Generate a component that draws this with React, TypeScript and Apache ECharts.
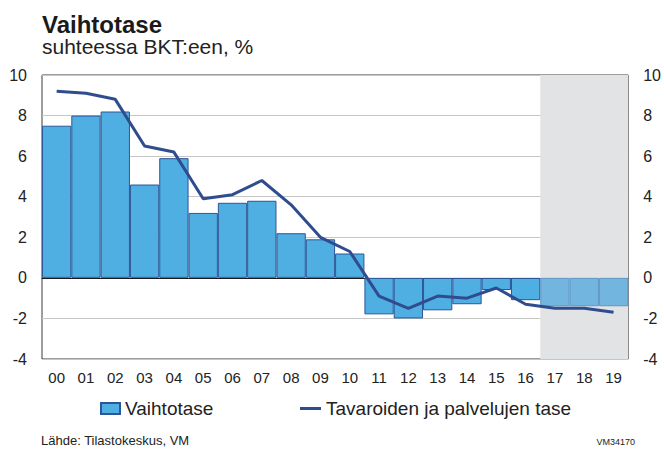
import React, { useEffect, useRef } from "react";
import * as echarts from "echarts";

const categories = ["00","01","02","03","04","05","06","07","08","09","10","11","12","13","14","15","16","17","18","19"];
const vaihtotase = [7.5, 8.0, 8.2, 4.6, 5.9, 3.2, 3.7, 3.8, 2.2, 1.9, 1.2, -1.8, -2.0, -1.6, -1.3, -0.6, -1.1, -1.4, -1.4, -1.4];
const tavaratase = [9.2, 9.1, 8.8, 6.5, 6.2, 3.9, 4.1, 4.8, 3.6, 2.0, 1.3, -0.9, -1.5, -0.9, -1.0, -0.5, -1.3, -1.5, -1.5, -1.7];
const forecastStart = 17;
const yTicks = { min: -4, max: 10, interval: 2 };

const FONT = "'Liberation Sans', Arial, Helvetica, sans-serif";

export default function App() {
  const ref = useRef<HTMLDivElement>(null);
  useEffect(() => {
    if (!ref.current) return;
    const chart = echarts.init(ref.current, null, { renderer: "svg" });
    const barData = vaihtotase.map((v, i) =>
      i >= forecastStart
        ? { value: v, itemStyle: { color: "#72b6e0", borderColor: "#5f95c8" } }
        : { value: v }
    );
    chart.setOption({
      animation: false,
      textStyle: { fontFamily: FONT, color: "#222" },
      title: [
        { text: "Vaihtotase", left: 42, top: 13, padding: 0, textStyle: { fontFamily: FONT, fontSize: 24, lineHeight: 22, fontWeight: "bold", color: "#1a1a1a" } },
        { text: "suhteessa BKT:een, %", left: 42, top: 36, padding: 0, textStyle: { fontFamily: FONT, fontSize: 21, lineHeight: 21, fontWeight: "normal", color: "#222" } },
        { text: "Lähde: Tilastokeskus, VM", left: 41, top: 434, padding: 0, textStyle: { fontFamily: FONT, fontSize: 13, fontWeight: "normal", color: "#222" } },
        { text: "VM34170", right: 29, top: 437, padding: 0, textStyle: { fontFamily: FONT, fontSize: 9, fontWeight: "normal", color: "#222" } },
      ],
      legend: [
        {
          data: ["Vaihtotase"], left: 100, top: 399, padding: 0, icon: "rect", itemWidth: 19, itemHeight: 11,
          textStyle: { fontFamily: FONT, fontSize: 19, color: "#222" },
        },
        {
          data: ["Tavaroiden ja palvelujen tase"], left: 300, top: 399, padding: 0, icon: "rect", itemWidth: 21, itemHeight: 3,
          textStyle: { fontFamily: FONT, fontSize: 19, color: "#222" },
        },
      ],
      grid: { left: 42, right: 34, top: 75, bottom: 90, show: true, borderColor: "#3a3a3a", borderWidth: 1, backgroundColor: "transparent" },
      xAxis: [
        {
          type: "category", data: categories, boundaryGap: true,
          axisLine: { show: true, onZero: true, lineStyle: { color: "#1a1a1a", width: 1 } },
          axisTick: { show: false },
          axisLabel: { fontFamily: FONT, fontSize: 15, color: "#222", margin: 11, interval: 0 },
          splitLine: { show: false },
        },
        { type: "value", min: -0.5, max: 19.5, show: false },
      ],
      yAxis: [
        {
          type: "value", min: yTicks.min, max: yTicks.max, interval: yTicks.interval, position: "left",
          axisLine: { show: false }, axisTick: { show: false },
          axisLabel: { fontFamily: FONT, fontSize: 16, color: "#222", margin: 15 },
          splitLine: { show: true, lineStyle: { color: "#c6c6c6", width: 1 } },
        },
        {
          type: "value", min: yTicks.min, max: yTicks.max, interval: yTicks.interval, position: "right",
          axisLine: { show: false }, axisTick: { show: false },
          axisLabel: { fontFamily: FONT, fontSize: 16, color: "#222", margin: 15 },
          splitLine: { show: false },
        },
      ],
      series: [
        {
          name: "forecast-shade", type: "line", xAxisIndex: 1, yAxisIndex: 0, data: [], z: -1, silent: true,
          markArea: {
            silent: true,
            itemStyle: { color: "#e2e3e5" },
            data: [[{ xAxis: forecastStart - 0.5 }, { xAxis: categories.length - 0.5 }]],
          },
        },
        {
          name: "Vaihtotase", type: "bar", data: barData, barWidth: "100%", barCategoryGap: "0%",
          itemStyle: { color: "#4fafe3", borderColor: "#2d5597", borderWidth: 1 },
        },
        {
          name: "Tavaroiden ja palvelujen tase", type: "line", data: tavaratase, symbol: "none", z: 5,
          itemStyle: { color: "#2f4d8e" },
          lineStyle: { color: "#2f4d8e", width: 3 },
        },
      ],
    });
    return () => chart.dispose();
  }, []);
  return <div ref={ref} style={{ width: 664, height: 449, position: "absolute", left: 0, top: 0 }} />;
}
